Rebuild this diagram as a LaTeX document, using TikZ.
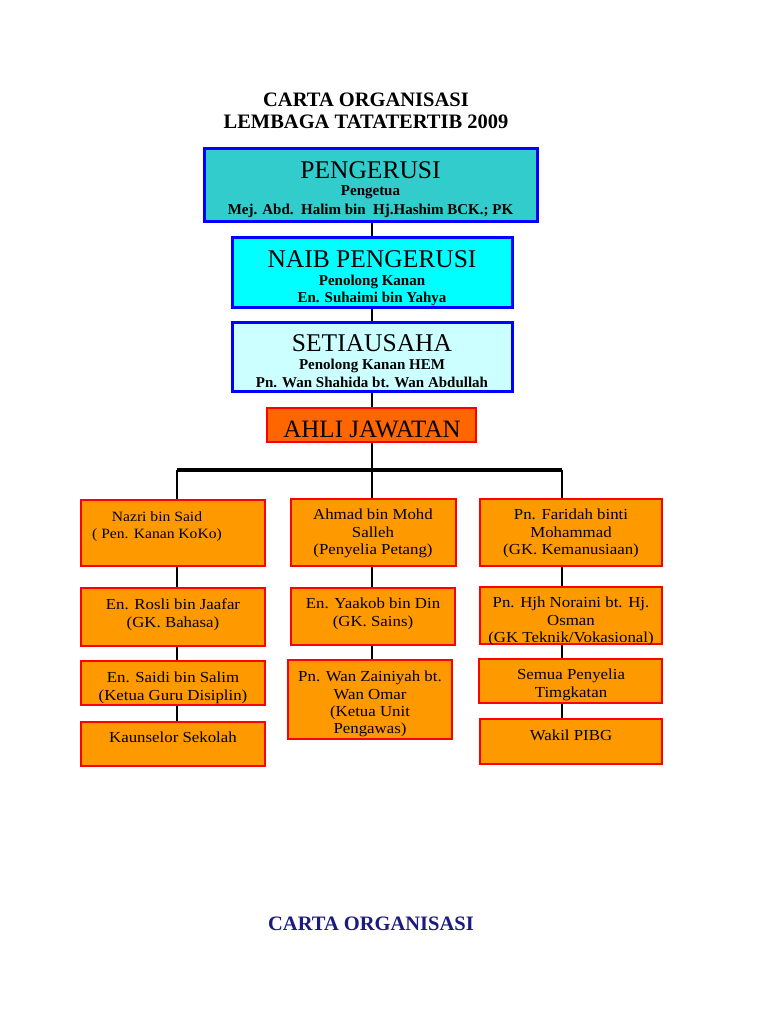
\documentclass[tikz,border=0pt]{standalone}
\usepackage{fontspec}
\setmainfont{Liberation Serif}
\newfontfamily\widefont[FakeStretch=1.1]{Liberation Serif}
\definecolor{teal1}{HTML}{33CCCC}
\definecolor{cyan1}{HTML}{00FFFF}
\definecolor{lcyan}{HTML}{CCFFFF}
\definecolor{ahli}{HTML}{FF6600}
\definecolor{orng}{HTML}{FF9900}
\definecolor{navy1}{HTML}{1A1A80}
\begin{document}
\begin{tikzpicture}[x=1pt,y=-1pt,
  bbox/.style={draw=blue,line width=3pt,inner sep=0pt},
  obox/.style={draw=red,line width=2.6pt,fill=orng,inner sep=0pt},
  big/.style={font=\fontsize{25.5}{28}\selectfont,inner sep=0pt},
  sub/.style={font=\fontsize{15}{17}\selectfont\bfseries,inner sep=0pt},
  otxt/.style={font=\widefont\fontsize{15.3}{17.2}\selectfont,align=center,inner sep=0pt,anchor=north},
  conn/.style={line width=1.2pt},
  ttl/.style={font=\fontsize{20.5}{24}\selectfont\bfseries,inner sep=0pt}]
\useasboundingbox (0,0) rectangle (768,1024);
\fill[white] (0,0) rectangle (768,1024);
% titles
\node[ttl] (t1) at (366,100) {CARTA ORGANISASI};
\node[ttl] (t2) at (366,122) {LEMBAGA TATATERTIB 2009};
% upper boxes
\node[bbox,fill=teal1,minimum width=333pt,minimum height=73pt] (peng) at (370.5,185.5) {};
\node[big] at (370.5,170) {PENGERUSI};
\node[sub] at (370.5,192.5) {Pengetua};
\node[sub] at (370.5,210.5) {Mej. Abd.\ \ Halim bin\ \ Hj.Hashim BCK.; PK};
\node[bbox,fill=cyan1,minimum width=280pt,minimum height=70pt] (naib) at (372,272) {};
\node[big] at (372,259) {NAIB PENGERUSI};
\node[sub] at (372,281.5) {Penolong Kanan};
\node[sub] at (372,298.5) {En. Suhaimi bin Yahya};
\node[bbox,fill=lcyan,minimum width=280pt,minimum height=69pt] (setia) at (372,356.5) {};
\node[big] at (372,343) {SETIAUSAHA};
\node[sub] at (372,365.5) {Penolong Kanan HEM};
\node[sub] at (372,382.5) {Pn. Wan Shahida bt. Wan Abdullah};
\node[draw=red,line width=2.6pt,fill=ahli,minimum width=209pt,minimum height=34pt,inner sep=0pt] (ahlij) at (371.5,425) {};
\node[font=\fontsize{25}{28}\selectfont,inner sep=0pt] at (372,429) {AHLI JAWATAN};
% connectors upper
\draw[conn] (peng.south -| 372,0) -- (naib.north -| 372,0);
\draw[conn] (naib.south -| 372,0) -- (setia.north -| 372,0);
\draw[conn] (setia.south -| 372,0) -- (ahlij.north -| 372,0);
\coordinate (bl) at (177,470);
\coordinate (bm) at (372,470);
\coordinate (br) at (562,470);
\draw[conn] (ahlij.south -| 372,0) -- (bm);
\draw[line width=4pt] (bl) -- (br);
% columns: boxes
\node[obox,minimum width=184pt,minimum height=66pt] (l1) at (173,533) {};
\node[obox,minimum width=184pt,minimum height=58pt] (l2) at (173,617) {};
\node[obox,minimum width=184pt,minimum height=44pt] (l3) at (173,683) {};
\node[obox,minimum width=184pt,minimum height=44pt] (l4) at (173,744) {};
\node[obox,minimum width=165pt,minimum height=67pt] (m1) at (373.5,532.5) {};
\node[obox,minimum width=164pt,minimum height=57pt] (m2) at (373,616.5) {};
\node[obox,minimum width=164pt,minimum height=79pt] (m3) at (370,699.5) {};
\node[obox,minimum width=182pt,minimum height=67pt] (r1) at (571,532.5) {};
\node[obox,minimum width=182pt,minimum height=57pt] (r2) at (571,615.5) {};
\node[obox,minimum width=183pt,minimum height=44pt] (r3) at (570.5,681) {};
\node[obox,minimum width=182pt,minimum height=45pt] (r4) at (571,741.5) {};
% box texts
\node[otxt,font=\widefont\fontsize{14.2}{17}\selectfont] at (157,511) {Nazri bin Said\\( Pen. Kanan KoKo)};
\node[otxt] at (173,599) {En. Rosli bin Jaafar\\(GK. Bahasa)};
\node[otxt] at (173,672) {En. Saidi bin Salim\\(Ketua Guru Disiplin)};
\node[otxt] at (173,732) {Kaunselor Sekolah};
\node[otxt] at (373,509) {Ahmad bin Mohd\\Salleh\\(Penyelia Petang)};
\node[otxt] at (373,598) {En. Yaakob bin Din\\(GK. Sains)};
\node[otxt] at (370,671) {Pn. Wan Zainiyah bt.\\Wan Omar\\(Ketua Unit\\Pengawas)};
\node[otxt] at (571,509) {Pn. Faridah binti\\Mohammad\\(GK. Kemanusiaan)};
\node[otxt] at (571,597) {Pn. Hjh Noraini bt. Hj.\\Osman\\(GK Teknik/Vokasional)};
\node[otxt] at (571,669) {Semua Penyelia\\Timgkatan};
\node[otxt] at (571,730) {Wakil PIBG};
% column connectors
\draw[conn] (bl) -- (l1.north -| bl);
\draw[conn] (bm) -- (m1.north -| bm);
\draw[conn] (br) -- (r1.north -| br);
\draw[conn] (l1.south -| bl) -- (l2.north -| bl);
\draw[conn] (l2.south -| bl) -- (l3.north -| bl);
\draw[conn] (l3.south -| bl) -- (l4.north -| bl);
\draw[conn] (m1.south -| bm) -- (m2.north -| bm);
\draw[conn] (m2.south -| bm) -- (m3.north -| bm);
\draw[conn] (r1.south -| br) -- (r2.north -| br);
\draw[conn] (r2.south -| br) -- (r3.north -| br);
\draw[conn] (r3.south -| br) -- (r4.north -| br);
% footer
\node[ttl,text=navy1] (foot) at (371,924) {CARTA ORGANISASI};
\end{tikzpicture}
\end{document}
